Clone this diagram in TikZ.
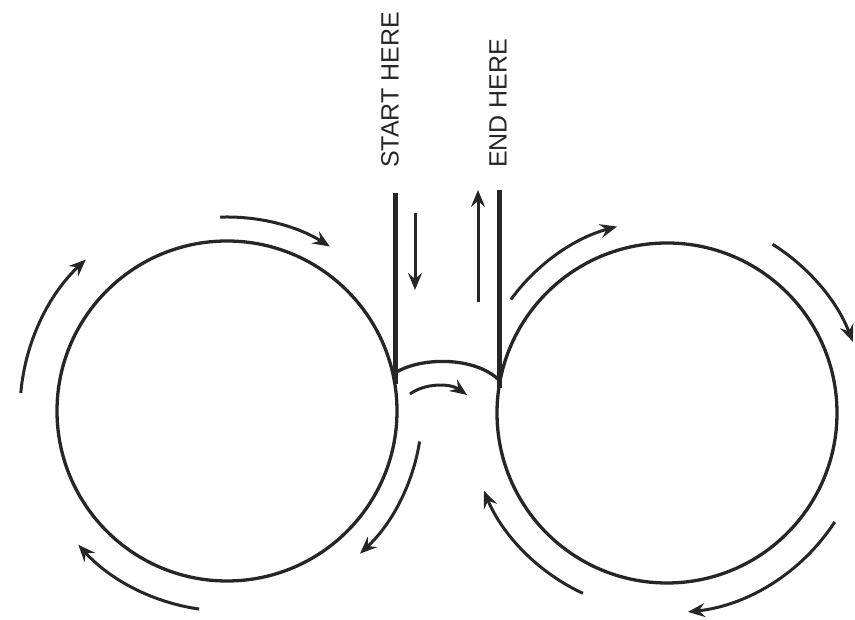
\documentclass[tikz,border=0pt]{standalone}
\usepackage{fontspec}
\setsansfont{Liberation Sans}
\usetikzlibrary{arrows.meta,calc}
\tikzset{
  wheel/.style={draw=black!85, line width=3.3pt},
  wall/.style={draw=black!85, line width=5pt},
  flow/.style={-{Stealth[length=17pt, width=14pt, inset=6pt]}, line width=3pt, black!85},
  tag/.style={rotate=90, anchor=west, inner sep=0pt, text=black!85,
              font=\sffamily\fontsize{25}{25}\selectfont}
}

\begin{document}
\begin{tikzpicture}[x=1pt, y=1pt]
  \useasboundingbox (0,0) rectangle (855,620);
  \coordinate (lc) at (227,209);
  \coordinate (rc) at (667,207);
  \coordinate (ltop) at (395,427);
  \coordinate (lbase) at (395,236);
  \coordinate (lfoot) at (395,247);
  \coordinate (rtop) at (499,430);
  \coordinate (rbase) at (499,232);
  \coordinate (rfoot) at (499,240);
  \draw[wheel] (lc) circle[radius=170];
  \draw[wheel] (rc) circle[radius=170];
  \draw[wall] (ltop) -- (lbase);
  \draw[wall] (rtop) -- (rbase);
  \draw[wheel] (lfoot) .. controls +(25,16) and +(-25,24) .. (rfoot);
  \node[tag] (start) at (390,452) {START HERE};
  \node[tag] (finish) at (498,452) {END HERE};
  \draw[flow] (415,407) -- (415,330);
  \draw[flow] (478,318) -- (478,430);
  \draw[flow] (410,226) .. controls (425,237) and (450,237) .. (467,225);
  \draw[flow] ([shift={(175:207)}]lc) arc[start angle=175, end angle=133, radius=207];
  \draw[flow] ([shift={(92:194)}]lc) arc[start angle=92, end angle=58, radius=194];
  \draw[flow] ([shift={(-9:195)}]lc) arc[start angle=-9, end angle=-47, radius=195];
  \draw[flow] ([shift={(262:200)}]lc) arc[start angle=262, end angle=222, radius=200];
  \draw[flow] ([shift={(144:193)}]rc) arc[start angle=144, end angle=105, radius=193];
  \draw[flow] ([shift={(58:199)}]rc) arc[start angle=58, end angle=21, radius=199];
  \draw[flow] ([shift={(-33:200)}]rc) arc[start angle=-33, end angle=-84, radius=200];
  \draw[flow] ([shift={(245:199)}]rc) arc[start angle=245, end angle=203, radius=199];
\end{tikzpicture}
\end{document}
